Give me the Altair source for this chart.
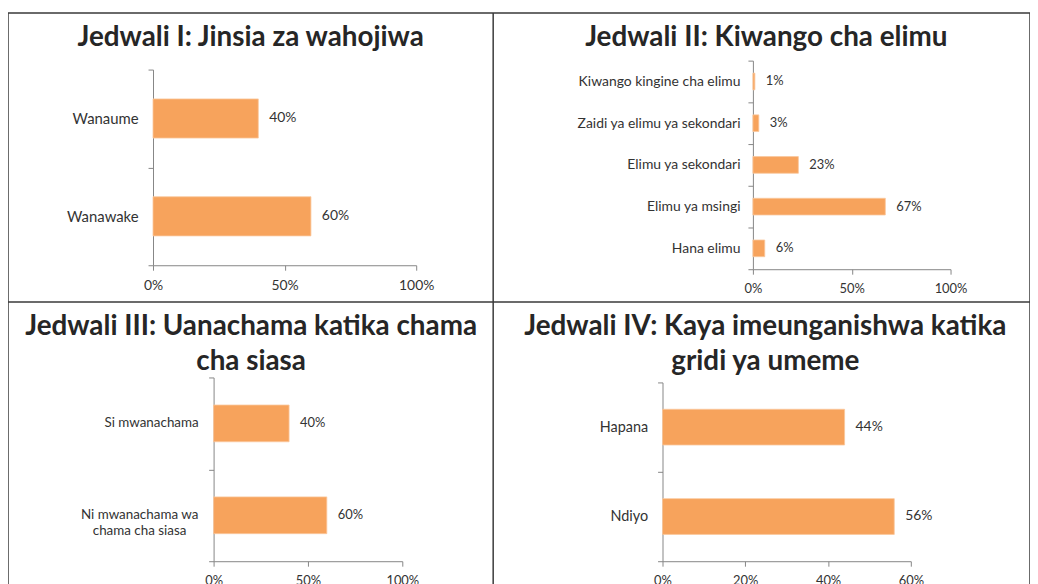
import altair as alt
import pandas as pd

# ---- data ----
p1_title = "Jedwali I: Jinsia za wahojiwa"
p1_cats = ["Wanaume", "Wanawake"]
p1_vals = [0.40, 0.60]

p2_title = "Jedwali II: Kiwango cha elimu"
p2_cats = ["Kiwango kingine cha elimu", "Zaidi ya elimu ya sekondari",
           "Elimu ya sekondari", "Elimu ya msingi", "Hana elimu"]
p2_vals = [0.01, 0.03, 0.23, 0.67, 0.06]

p3_title = "Jedwali III: Uanachama katika chama\ncha siasa"
p3_cats = ["Si mwanachama", "Ni mwanachama wa\nchama cha siasa"]
p3_vals = [0.40, 0.60]

p4_title = "Jedwali IV: Kaya imeunganishwa katika\ngridi ya umeme"
p4_cats = ["Hapana", "Ndiyo"]
p4_vals = [0.44, 0.56]

x_ticks_100 = [0, 0.5, 1.0]
x_ticks_60 = [0, 0.2, 0.4, 0.6]

FONT = "Lato"
BAR = "#F7A35C"
AXIS = "#868686"
LABEL = "#333333"

W, H = 1029, 581          # whole drawing area (one view)
COL = 488.5               # x of the vertical divider
ROW = 291                 # y of the horizontal divider


def panel(cats, vals, xr, yr, xmax, xticks, lab_size, tick_size, val_size, ypad,
          axis_labels=True):
    df = pd.DataFrame({"cat": cats, "val": vals})
    base = alt.Chart(df)
    x = alt.X("val:Q",
              scale=alt.Scale(domain=[0, xmax], range=xr, nice=False, zero=True),
              axis=alt.Axis(orient="bottom", values=xticks, format=".0%", title=None,
                            grid=False, offset=-(H - yr[1]), domainColor=AXIS,
                            tickColor=AXIS, tickSize=5, labelFontSize=tick_size,
                            labelColor=LABEL, labelFont=FONT, labelPadding=8,
                            labelFlush=False))
    y = alt.Y("cat:N", sort=cats,
              scale=alt.Scale(range=yr, paddingInner=0, paddingOuter=0),
              axis=alt.Axis(orient="left", title=None, offset=-xr[0], tickBand="extent",
                            domainColor=AXIS, tickColor=AXIS, tickSize=5,
                            labels=axis_labels,
                            labelFontSize=lab_size, labelColor=LABEL, labelFont=FONT,
                            labelPadding=ypad, labelLimit=400))
    bars = base.mark_bar(height=alt.RelativeBandSize(0.4), color=BAR,
                         stroke="#FAC79C", strokeWidth=0.8).encode(x=x, y=y)
    texts = base.mark_text(align="left", baseline="middle", dx=11, font=FONT,
                           fontSize=val_size, color=LABEL).encode(
        x=alt.X("val:Q"), y=alt.Y("cat:N", sort=cats),
        text=alt.Text("val:Q", format=".0%"))
    layers = [bars, texts]
    if not axis_labels:
        one = base.transform_filter("indexof(datum.cat, '\\n') < 0").mark_text(
            align="right", baseline="middle", font=FONT, fontSize=lab_size,
            color=LABEL).encode(y=alt.Y("cat:N", sort=cats), x=alt.value(xr[0] - 15),
                                text="cat:N")
        two = base.transform_filter("indexof(datum.cat, '\\n') >= 0").mark_text(
            align="center", baseline="middle", font=FONT, fontSize=lab_size,
            color=LABEL, lineBreak="\n", lineHeight=16).encode(
            y=alt.Y("cat:N", sort=cats), x=alt.value(xr[0] - 74.5), text="cat:N")
        layers += [one, two]
    return alt.layer(*layers)


def title(txt, cx, cy):
    return alt.Chart(pd.DataFrame({"t": [txt]})).mark_text(
        align="center", baseline="alphabetic", font=FONT, fontSize=28,
        fontWeight="bold", color="#262626", lineBreak="\n", lineHeight=35).encode(
        text="t:N", x=alt.value(cx), y=alt.value(cy))


c1 = panel(p1_cats, p1_vals, [146, 411], [57, 254], 1.0, x_ticks_100, 15, 14, 14, 10)
c2 = panel(p2_cats, p2_vals, [750, 949], [48, 258], 1.0, x_ticks_100, 14, 13, 13, 8)
c3 = panel(p3_cats, p3_vals, [207, 397], [ROW + 76, ROW + 261], 1.0, x_ticks_100,
           13.5, 13, 13, 10, axis_labels=False)
c4 = panel(p4_cats, p4_vals, [659, 909], [ROW + 81, ROW + 261], 0.6, x_ticks_60,
           14.5, 13, 14, 10)

t1 = title(p1_title, COL / 2, 33)
t2 = title(p2_title, COL + 275, 33)
t3 = title(p3_title, COL / 2 + 0.5, ROW + 33)
t4 = title(p4_title, COL + 274, ROW + 33)

one_row = pd.DataFrame({"k": [0]})
vline = alt.Chart(one_row).mark_rule(color="#3a3a3a", strokeWidth=1.5).encode(
    x=alt.value(COL), y=alt.value(0), y2=alt.value(H))
hline = alt.Chart(one_row).mark_rule(color="#3a3a3a", strokeWidth=1.5).encode(
    x=alt.value(0), x2=alt.value(W), y=alt.value(ROW))

chart = alt.layer(c1, c2, c3, c4, t1, t2, t3, t4, vline, hline).resolve_scale(
    x="independent", y="independent"
).resolve_axis(
    x="independent", y="independent"
).properties(
    width=W, height=H,
    padding={"left": 0, "top": 3, "right": 0, "bottom": 0},
    autosize=alt.AutoSizeParams(type="none"),
    background="white"
).configure_view(
    stroke="#3a3a3a", strokeWidth=1.5
)

chart.save("out.html", embed_options={"renderer": "svg", "actions": False})
